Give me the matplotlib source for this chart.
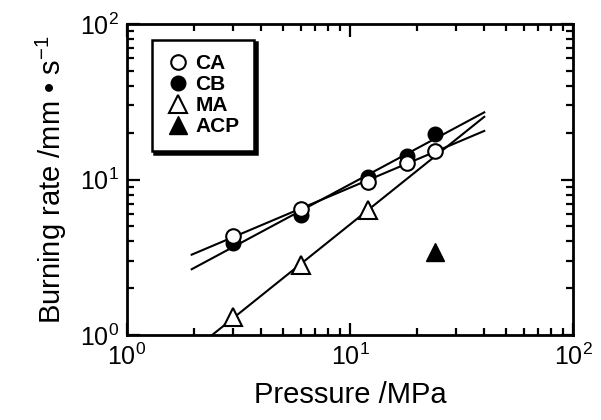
import matplotlib.pyplot as plt
import numpy as np

plt.rcParams['font.family'] = ['Liberation Sans', 'DejaVu Sans']
plt.rcParams['mathtext.fontset'] = 'custom'
plt.rcParams['mathtext.rm'] = 'Liberation Sans'

# pressure (MPa) and burning rate (mm/s)
p_ca = [3, 6, 12, 18, 24]
r_ca = [4.3, 6.5, 9.6, 12.8, 15.2]
p_cb = [3, 6, 12, 18, 24]
r_cb = [3.9, 5.9, 10.4, 14.2, 19.5]
p_ma = [3, 6, 12]
r_ma = [1.3, 2.8, 6.4]
p_acp = [24]
r_acp = [3.4]

fig = plt.figure(figsize=(6.01, 4.2), dpi=100)
ax = fig.add_axes([127/601, 1-335/420, 446/601, 311/420])

# power-law fits
def fit(p, r, x0, x1):
    k, c = np.polyfit(np.log10(p), np.log10(r), 1)
    xx = np.logspace(np.log10(x0), np.log10(x1), 50)
    return xx, 10**(c + k*np.log10(xx))

for p, r in [(p_ca, r_ca), (p_cb, r_cb)]:
    xx, yy = fit(p, r, 1.95, 40)
    ax.plot(xx, yy, color='black', lw=1.5, zorder=1)
xx, yy = fit(p_ma, r_ma, 1.5, 40)
ax.plot(xx, yy, color='black', lw=1.5, zorder=1)

ms = 10.5
ax.plot(p_ca, r_ca, 'o', mfc='white', mec='black', mew=1.5, ms=ms, label='CA', zorder=3)
ax.plot(p_cb, r_cb, 'o', mfc='black', mec='black', ms=ms, label='CB', zorder=2)
ax.plot(p_ma, r_ma, '^', mfc='white', mec='black', mew=1.5, ms=ms+2, label='MA', zorder=3)
ax.plot(p_acp, r_acp, '^', mfc='black', mec='black', ms=ms+2, label='ACP', zorder=3)

ax.set_xscale('log')
ax.set_yscale('log')
ax.set_xlim(1, 100)
ax.set_ylim(1, 100)

for s in ax.spines.values():
    s.set_linewidth(2)
ax.tick_params(which='both', direction='in', top=True, right=True, width=1.6)
ax.tick_params(which='major', length=9, labelsize=18, pad=6)
ax.tick_params(which='minor', length=5)

ax.set_xlabel('Pressure /MPa', fontsize=21, labelpad=8)
ax.set_ylabel('Burning rate /mm \u2022 s$^{\\mathregular{-1}}$', fontsize=21, labelpad=8)

leg = ax.legend(loc='upper left', bbox_to_anchor=(0.055, 0.95), frameon=True,
                fancybox=False, shadow={'color': 'black', 'alpha': 1.0},
                handletextpad=0.3, labelspacing=0.1,
                borderpad=0.7, handlelength=1.1, borderaxespad=0,
                prop={'weight': 'bold', 'size': 15})
leg.get_frame().set_edgecolor('black')
leg.get_frame().set_linewidth(1.8)

fig.savefig('out.png', dpi=100)
